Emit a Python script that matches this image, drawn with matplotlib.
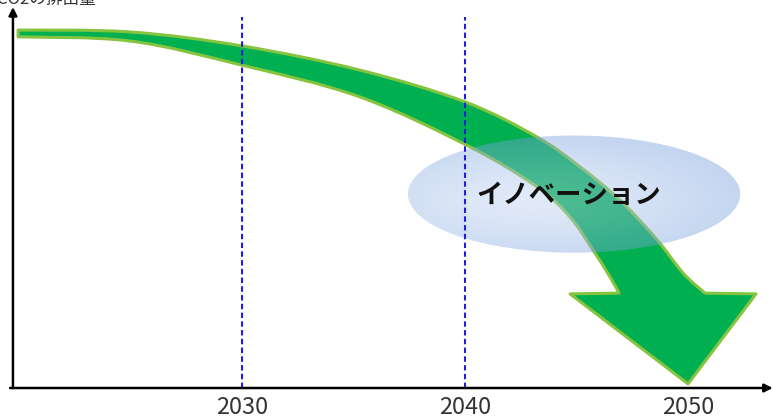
import numpy as np
import matplotlib.pyplot as plt
from matplotlib.patches import PathPatch, Ellipse
from matplotlib.path import Path

plt.rcParams['font.family'] = ['Noto Sans CJK JP', 'DejaVu Sans']

# 排出量の推移 (年, 指数) 矢印の上側と下側の輪郭
upper_years = [2019.96, 2024.98, 2030.0, 2035.29, 2040.0, 2043.23, 2045.16, 2046.95, 2048.61, 2049.78, 2050.76]
upper_level = [94.7, 94.2, 90.5, 84.1, 75.7, 66.4, 58.5, 49.7, 39.2, 30.4, 25.1]
lower_years = [2019.96, 2024.98, 2030.0, 2035.29, 2040.22, 2043.23, 2044.71, 2045.74, 2046.50, 2046.91]
lower_level = [92.9, 91.8, 85.4, 77.0, 63.8, 53.2, 45.2, 36.5, 29.4, 25.1]

# 矢じり: 左の翼, 先端, 右の翼
head_years = [2044.71, 2050.0, 2053.05]
head_level = [24.9, 1.1, 24.9]

milestones = [2030, 2040]
tick_years = [2030, 2040, 2050]
tick_labels = ['2030', '2040', '2050']

innov_center = (2044.89, 51.3)
innov_size = (14.9, 31.0)
innov_label = 'イノベーション'
y_label = 'CO2の排出量'


def smooth_segments(pts):
    # Catmull-Rom -> ベジェ曲線の制御点
    pts = np.asarray(pts, dtype=float)
    ext = np.vstack([pts[0], pts, pts[-1]])
    verts, codes = [], []
    for i in range(1, len(ext) - 2):
        p0, p1, p2, p3 = ext[i - 1], ext[i], ext[i + 1], ext[i + 2]
        verts += [p1 + (p2 - p0) / 6, p2 - (p3 - p1) / 6, p2]
        codes += [Path.CURVE4] * 3
    return verts, codes


fig = plt.figure(figsize=(7.73, 4.19), dpi=100)
ax = fig.add_axes([0, 0, 1, 1])
ax.set_xlim(2019.15, 2053.81)
ax.set_ylim(-8.2, 102.65)
ax.axis('off')

# 緑の矢印
up = list(zip(upper_years, upper_level))
lo = list(zip(lower_years, lower_level))[::-1]
verts = [up[0]]
codes = [Path.MOVETO]
v, c = smooth_segments(up)
verts += v
codes += c
for hx, hy in zip(head_years[::-1], head_level[::-1]):
    verts.append((hx, hy))
    codes.append(Path.LINETO)
verts.append(lo[0])
codes.append(Path.LINETO)
v, c = smooth_segments(lo)
verts += v
codes += c
verts.append(up[0])
codes.append(Path.CLOSEPOLY)
arrow = PathPatch(Path(verts, codes), facecolor='#00b050', edgecolor='#86c440',
                  linewidth=2.2, joinstyle='round', zorder=2)
ax.add_patch(arrow)

# イノベーションの楕円 (グラデーション)
ex0 = innov_center[0] - innov_size[0] / 2
ex1 = innov_center[0] + innov_size[0] / 2
ey0 = innov_center[1] - innov_size[1] / 2
ey1 = innov_center[1] + innov_size[1] / 2
gx, gy = np.meshgrid(np.linspace(-1, 1, 300), np.linspace(1, -1, 150))
r = np.clip(np.sqrt(((gx + 0.25) / 1.25) ** 2 + ((gy + 0.1) / 1.1) ** 2), 0, 1)
c_in = np.array([187, 207, 240]) / 255
c_out = np.array([115, 157, 220]) / 255
rgba = np.zeros(gx.shape + (4,))
for k in range(3):
    rgba[..., k] = c_in[k] + (c_out[k] - c_in[k]) * r ** 1.3
rgba[..., 3] = 0.42
ell = Ellipse(innov_center, innov_size[0], innov_size[1], facecolor='none',
              edgecolor='none')
ax.add_patch(ell)
im = ax.imshow(rgba, extent=[ex0, ex1, ey0, ey1], aspect='auto', zorder=3,
               interpolation='bilinear')
im.set_clip_path(ell)
ax.text(innov_center[0] - 0.25, innov_center[1] - 0.5, innov_label, fontsize=19,
        fontweight='bold', color='#111111', ha='center', va='center', zorder=6)

# 目標年の破線
ax.vlines(milestones, 0, 98.1, colors='#1f1fe0', linestyles=(0, (2.6, 1.6)),
          linewidth=1.5, zorder=5)

# 軸 (矢印付き)
ax.annotate('', xy=(2019.73, 100.8), xytext=(2019.73, 0),
            arrowprops=dict(arrowstyle='-|>', color='black', lw=1.8,
                            mutation_scale=12, shrinkA=0, shrinkB=0), zorder=7)
ax.annotate('', xy=(2053.8, 0), xytext=(2019.6, 0),
            arrowprops=dict(arrowstyle='-|>', color='black', lw=1.8,
                            mutation_scale=12, shrinkA=0, shrinkB=0), zorder=7)

for yr, lab in zip(tick_years, tick_labels):
    ax.text(yr, -7.0, lab, fontsize=17, color='#333333', ha='center', va='baseline')

ax.text(2019.0, 101.7, y_label, fontsize=12, color='#333333', ha='left', va='baseline')

fig.savefig('out.png', dpi=100)
